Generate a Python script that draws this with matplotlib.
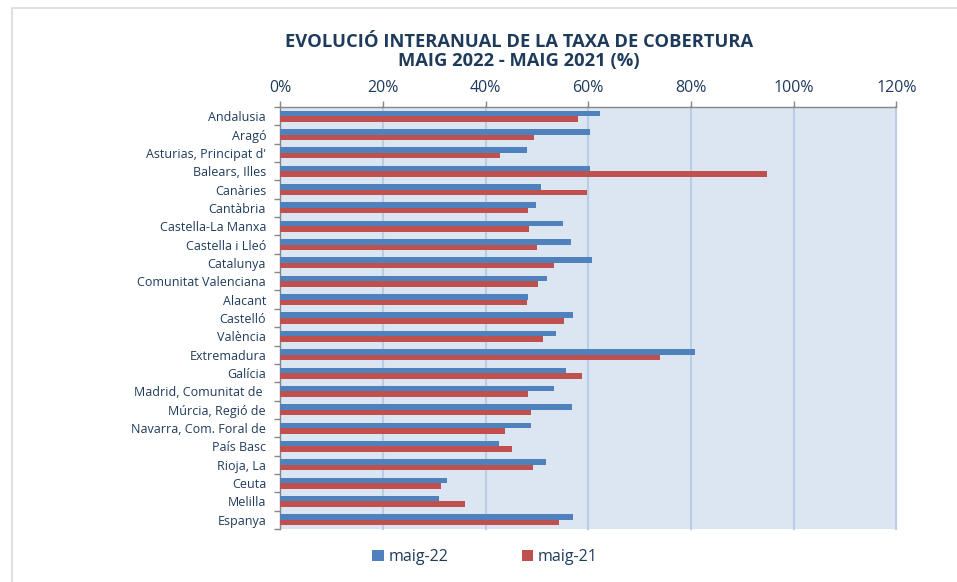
import matplotlib
matplotlib.use("Agg")
import numpy as np
import matplotlib.pyplot as plt
from matplotlib.lines import Line2D
from matplotlib.ticker import FixedLocator, PercentFormatter

regions = ["Andalusia", "Aragó", "Asturias, Principat d'", "Balears, Illes", "Canàries",
           "Cantàbria", "Castella-La Manxa", "Castella i Lleó", "Catalunya",
           "Comunitat Valenciana", "Alacant", "Castelló", "València", "Extremadura",
           "Galícia", "Madrid, Comunitat de ", "Múrcia, Regió de", "Navarra, Com. Foral de",
           "País Basc", "Rioja, La", "Ceuta", "Melilla", "Espanya"]
maig_22 = [62.3, 60.3, 48.0, 60.4, 50.8, 49.9, 55.0, 56.6, 60.8, 51.9, 48.2, 57.1,
           53.8, 80.8, 55.6, 53.3, 56.8, 48.8, 42.6, 51.7, 32.5, 31.0, 57.0]
maig_21 = [58.1, 49.5, 42.8, 94.8, 59.8, 48.2, 48.5, 50.1, 53.4, 50.3, 48.0, 55.3,
           51.2, 73.9, 58.8, 48.2, 48.8, 43.7, 45.1, 49.2, 31.3, 36.0, 54.4]
series_names = ["maig-22", "maig-21"]

BLUE, RED = "#4F81BD", "#C0504D"
TXT = "#1F3B5C"
BG = "#DCE6F2"
GRID = "#B9CDE5"

fig = plt.figure(figsize=(9.57, 5.82), dpi=100)
ax = fig.add_axes([280/957, 1-529/582, (896.5-280)/957, (529-107)/582])
ax.set_facecolor(BG)

y = np.arange(len(regions))
h = 0.3
ax.barh(y - h/2, maig_22, height=h, color=BLUE, label=series_names[0], zorder=3)
ax.barh(y + h/2, maig_21, height=h, color=RED, label=series_names[1], zorder=3)

ax.set_xlim(0, 120)
ax.set_ylim(len(regions) - 0.5, -0.5)
ax.xaxis.tick_top()
ax.set_xticks(np.arange(0, 121, 20))
ax.xaxis.set_major_formatter(PercentFormatter(decimals=0))
ax.tick_params(axis="x", which="major", length=4, width=1, color="#868686", pad=4,
               labelsize=11.5, labelcolor=TXT)
for lbl in ax.get_xticklabels():
    lbl.set_fontfamily("Open Sans")
for xv in np.arange(20, 121, 20):
    ax.axvline(xv, color=GRID, lw=1.5, zorder=1, clip_on=False)

ax.set_yticks(y)
ax.set_yticklabels(regions, fontsize=9, color=TXT, family="Open Sans")
ax.tick_params(axis="y", which="major", length=0, pad=10)
ax.yaxis.set_minor_locator(FixedLocator(np.arange(-0.5, len(regions), 1.0)))
ax.tick_params(axis="y", which="minor", length=4, width=1, color="#868686")

for s in ("right", "bottom"):
    ax.spines[s].set_visible(False)
for s in ("left", "top"):
    ax.spines[s].set_color("#868686")
    ax.spines[s].set_linewidth(1)

fig.text(519/957, 1-42/582, "EVOLUCIÓ INTERANUAL DE LA TAXA DE COBERTURA",
         ha="center", va="center", fontsize=13.2, fontweight="bold", color=TXT, family="Open Sans")
fig.text(519/957, 1-61/582, "MAIG 2022 - MAIG 2021 (%)",
         ha="center", va="center", fontsize=13.2, fontweight="bold", color=TXT, family="Open Sans")

leg = fig.legend(loc="center", bbox_to_anchor=(485/957, 1-557/582), ncol=2, frameon=False,
                 handlelength=0.7, handleheight=0.7, handletextpad=0.3, columnspacing=4.6,
                 prop={"family": "Open Sans", "size": 11.5})
for t in leg.get_texts():
    t.set_color(TXT)

# outer chart frame
fx, fy = 12/957, 1-8/582
fig.add_artist(Line2D([fx, fx, 1], [0, fy, fy], transform=fig.transFigure,
                      color="#D9D9D9", lw=1.2))

fig.savefig("out.png", dpi=100)
